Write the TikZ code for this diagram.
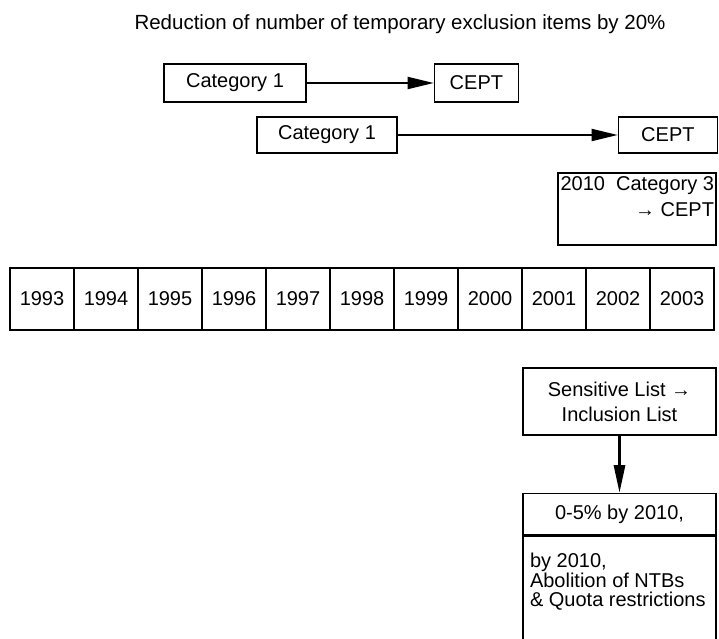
\documentclass[tikz,border=0pt]{standalone}
\usepackage{fontspec}
\setmainfont{Liberation Sans}
\usetikzlibrary{positioning,arrows.meta}

\begin{document}
\begin{tikzpicture}[x=1pt,y=1pt,
  box/.style={draw,line width=1.4pt,inner sep=2pt,font=\fontsize{20}{25}\selectfont,align=center},
  yr/.style={box,minimum width=64pt,minimum height=62pt},
  link/.style={-{Triangle[length=26pt,width=12pt]},line width=1.8pt}]
  \useasboundingbox (0,0) rectangle (719,638);
  \node[font=\fontsize{20.5}{24}\selectfont] (title) at (400,614)
    {Reduction of number of temporary exclusion items by 20\%};
  % category 1 -> CEPT
  \node[box,minimum width=142pt,minimum height=38pt] (catA) at (235,555) {Category 1};
  \node[box,minimum width=84pt,minimum height=38pt,right=127pt of catA] (ceptA) {CEPT};
  \node[box,minimum width=140pt,minimum height=36pt] (catB) at (327,503) {Category 1};
  \node[box,minimum width=99pt,minimum height=36pt,right=220pt of catB] (ceptB) {CEPT};
  \draw[link] (catA) -- (ceptA);
  \draw[link] (catB) -- (ceptB);
  \node[box,inner xsep=2pt,inner ysep=4pt] (catC) at (637,429)
    {\parbox[c][64pt][t]{154pt}{\fontsize{20}{26}\selectfont\raggedleft 2010\ \ Category 3\\ → CEPT}};
  % years
  \foreach \yr [count=\i from 0] in {1993,...,2003}
    \node[yr] (y\yr) at (42+64*\i,339) {\yr};
  % inclusion list
  \node[box,minimum width=193pt,minimum height=67pt] (sens) at (619.5,236.5)
    {Sensitive List →\\Inclusion List};
  \node[box,minimum width=193pt,minimum height=41pt,anchor=north] (rate) at (619.5,145) {0-5\% by 2010,};
  \node[box,anchor=north,inner xsep=7pt,inner ysep=17pt] (ntb) at (rate.south)
    {\parbox[c][92pt][t]{179pt}{\fontsize{20}{19.5}\selectfont\raggedright
      by 2010,\\Abolition of NTBs\\\& Quota restrictions}};
  \draw[line width=3pt,-{Triangle[length=28pt,width=11pt]}] (sens) -- (rate);
\end{tikzpicture}
\end{document}
